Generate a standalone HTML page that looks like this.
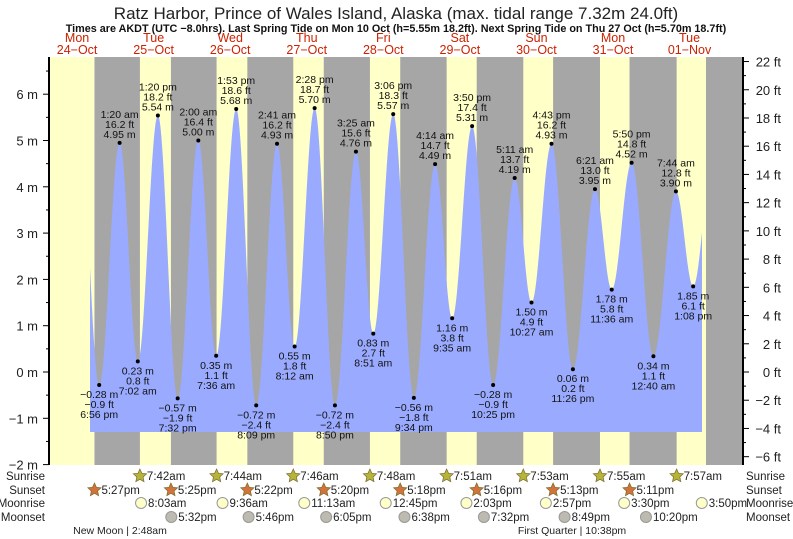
<!DOCTYPE html>
<html><head><meta charset="utf-8"><style>
body{margin:0;background:#fff;}
svg{display:block;font-family:"Liberation Sans",sans-serif;}
</style></head><body>
<svg id="chart" width="793" height="539" viewBox="0 0 793 539">
<text x="396" y="19" text-anchor="middle" font-size="17" fill="#222">Ratz Harbor, Prince of Wales Island, Alaska (max. tidal range 7.32m 24.0ft)</text>
<text x="396" y="32" text-anchor="middle" font-size="10.8" font-weight="bold" fill="#111">Times are AKDT (UTC −8.0hrs). Last Spring Tide on Mon 10 Oct (h=5.55m 18.2ft). Next Spring Tide on Thu 27 Oct (h=5.70m 18.7ft)</text>
<g id="bg"></g><g id="tide"></g><g id="axes"></g><g id="labels"></g><g id="bottom"></g>
</svg>
<script>
// ---- data ----
const dayNames = ["Mon","Tue","Wed","Thu","Fri","Sat","Sun","Mon","Tue"];
const dayDates = ["24\u2212Oct","25\u2212Oct","26\u2212Oct","27\u2212Oct","28\u2212Oct","29\u2212Oct","30\u2212Oct","31\u2212Oct","01\u2212Nov"];
// tide extremes: hours since 24-Oct 00:00, height m, label time
const tideHours = [12.75,18.93,25.33,31.03,37.33,43.53,50.0,55.6,61.88,68.15,74.68,80.2,86.47,92.83,99.42,104.85,111.1,117.57,124.23,129.58,135.83,142.42,149.18,154.45,160.72,167.43,174.35,179.6,185.83,192.67,199.73,205.13,211.13,216.5];
const tideHeights = [5.4,-0.28,4.95,0.23,5.54,-0.57,5.00,0.35,5.68,-0.72,4.93,0.55,5.70,-0.72,4.76,0.83,5.57,-0.56,4.49,1.16,5.31,-0.28,4.19,1.50,4.93,0.06,3.95,1.78,4.52,0.34,3.90,1.85,4.5,0.5];
const tideTimes = ["","6:56 pm","1:20 am","7:02 am","1:20 pm","7:32 pm","2:00 am","7:36 am","1:53 pm","8:09 pm","2:41 am","8:12 am","2:28 pm","8:50 pm","3:25 am","8:51 am","3:06 pm","9:34 pm","4:14 am","9:35 am","3:50 pm","10:25 pm","5:11 am","10:27 am","4:43 pm","11:26 pm","6:21 am","11:36 am","5:50 pm","12:40 am","7:44 am","1:08 pm","",""];
const tideFeet = ["","−0.9 ft","16.2 ft","0.8 ft","18.2 ft","−1.9 ft","16.4 ft","1.1 ft","18.6 ft","−2.4 ft","16.2 ft","1.8 ft","18.7 ft","−2.4 ft","15.6 ft","2.7 ft","18.3 ft","−1.8 ft","14.7 ft","3.8 ft","17.4 ft","−0.9 ft","13.7 ft","4.9 ft","16.2 ft","0.2 ft","13.0 ft","5.8 ft","14.8 ft","1.1 ft","12.8 ft","6.1 ft","",""];
const sunriseHours = [31.7,55.73,79.77,103.8,127.85,151.88,175.92,199.95];
const sunriseLabels = ["7:42am","7:44am","7:46am","7:48am","7:51am","7:53am","7:55am","7:57am"];
const sunsetHours = [17.45,41.42,65.37,89.33,113.3,137.27,161.22,185.18,209.15];
const sunsetLabels = ["5:27pm","5:25pm","5:22pm","5:20pm","5:18pm","5:16pm","5:13pm","5:11pm",""];
const moonriseHours = [32.05,57.6,83.22,108.75,134.05,158.95,183.5,207.83];
const moonriseLabels = ["8:03am","9:36am","11:13am","12:45pm","2:03pm","2:57pm","3:30pm","3:50pm"];
const moonsetHours = [41.53,65.77,90.08,114.63,139.53,164.82,190.33];
const moonsetLabels = ["5:32pm","5:46pm","6:05pm","6:38pm","7:32pm","8:49pm","10:20pm"];
const mTicks = [-2,-1,0,1,2,3,4,5,6];
const ftTicks = [-6,-4,-2,0,2,4,6,8,10,12,14,16,18,20,22];

// ---- scales ----
const NS="http://www.w3.org/2000/svg";
const L=49,R=743,T=57,B=465;
const X=h=>38.8+h*3.19;
const Y=m=>372-m*46.3;
const YF=f=>Y(f*0.3048);
function el(tag,attrs,parent,txt){const e=document.createElementNS(NS,tag);for(const k in attrs)e.setAttribute(k,attrs[k]);if(txt!==undefined)e.textContent=txt;parent.appendChild(e);return e;}
const bg=document.getElementById('bg'),tide=document.getElementById('tide'),axes=document.getElementById('axes'),labels=document.getElementById('labels'),bottom=document.getElementById('bottom');

// background
let r=el('rect',{x:L,y:T,width:R-L,height:B-T,fill:'#ffffc8'},bg);


for(let i=0;i<sunsetHours.length;i++){
  const x1=Math.max(L,X(sunsetHours[i]));
  const x2=i<sunriseHours.length?X(sunriseHours[i]):R;
  const n=el('rect',{x:x1,y:T,width:Math.min(R,x2)-x1,height:B-T,fill:'#a6a6a6'},bg);
  
  
}
// day labels
for(let i=0;i<dayNames.length;i++){
  const cx=X(i*24+12);
  const t1=el('text',{x:cx,y:42,'text-anchor':'middle','font-size':12.5,fill:'#cc2200'},labels,dayNames[i]);
  
  
  const t2=el('text',{x:cx,y:54,'text-anchor':'middle','font-size':12.5,fill:'#cc2200'},labels,dayDates[i]);
  
  
}
// tide curve
const xs0=90,xs1=702,base=432;
function heightAt(h){
  for(let i=0;i<tideHours.length-1;i++){
    if(h>=tideHours[i]&&h<=tideHours[i+1]){
      const f=(h-tideHours[i])/(tideHours[i+1]-tideHours[i]);
      return tideHeights[i]+(tideHeights[i+1]-tideHeights[i])*(1-Math.cos(Math.PI*f))/2;
    }
  }
  return tideHeights[tideHeights.length-1];
}
let pts=[[xs0,base]];
for(let x=xs0;x<=xs1;x+=0.5){const h=(x-38.8)/3.19;pts.push([x,Y(heightAt(h))]);}
pts.push([xs1,base]);
const poly=el('polygon',{points:pts.map(p=>p[0].toFixed(1)+','+p[1].toFixed(1)).join(' '),fill:'#9aabff'},tide);


// extreme markers
for(let i=0;i<tideHours.length;i++){
  if(!tideTimes[i])continue;
  const x=X(tideHours[i]),y=Y(tideHeights[i]);
  const isHigh=tideHeights[i]>tideHeights[i-1];
  const d=el('circle',{cx:x,cy:y,r:2,fill:'#000'},labels);
  
  
  const g=el('text',{'font-size':10.5,fill:'#111','text-anchor':'middle'},labels);
  
  
  const m=tideHeights[i].toFixed(2).replace('-','\u2212')+' m';
  const lines=isHigh?[tideTimes[i],tideFeet[i],m]:[m,tideFeet[i],tideTimes[i]];
  const y0=isHigh?y-25:y+13;
  lines.forEach((s,k)=>el('tspan',{x:x,y:y0+k*10},g,s));
}
// axes
let a=el('line',{x1:L,y1:T,x2:L,y2:B,stroke:'#000','stroke-width':2},axes);

a=el('line',{x1:R,y1:T,x2:R,y2:B,stroke:'#000','stroke-width':2},axes);

for(let m=-2;m<=6.5;m+=0.5){el('line',{x1:L-(m%1===0?6:3),y1:Y(m),x2:L,y2:Y(m),stroke:'#000'},axes);}
mTicks.forEach(m=>{const t=el('text',{x:38,y:Y(m)+5,'text-anchor':'end','font-size':13,fill:'#222'},axes,String(m).replace('-','\u2212')+' m');
  });
for(let f=-6;f<=22;f+=1){el('line',{x1:R,y1:YF(f),x2:R+(f%2===0?6:3),y2:YF(f),stroke:'#000'},axes);}
ftTicks.forEach(f=>{const t=el('text',{x:781,y:YF(f)+5,'text-anchor':'end','font-size':13,fill:'#222'},axes,String(f).replace('-','\u2212')+' ft');
  });
// bottom rows
const rows=[['Sunrise',480],['Sunset',494],['Moonrise',507],['Moonset',521]];
rows.forEach(([n,y])=>{
  let t=el('text',{x:45,y:y,'text-anchor':'end','font-size':11.5,fill:'#222'},bottom,n);
  
  t=el('text',{x:746,y:y,'font-size':11.5,fill:'#222'},bottom,n);
  
});
function star(cx,cy,fill){let p=[];for(let k=0;k<10;k++){const rr=k%2?3.3:7,a=-Math.PI/2+k*Math.PI/5;p.push((cx+rr*Math.cos(a)).toFixed(1)+','+(cy+rr*Math.sin(a)).toFixed(1));}
  return el('polygon',{points:p.join(' '),fill:fill,stroke:'#7a6a30','stroke-width':0.7},bottom);}
function rowItems(hours,labs,y,kind){
  hours.forEach((h,i)=>{
    if(!labs[i])return;const x=X(h);let ic;
    if(kind==='sunrise')ic=star(x,y-4,'#b5b53a');
    else if(kind==='sunset')ic=star(x,y-4,'#d2743a');
    else ic=el('circle',{cx:x,cy:y-4,r:5.5,fill:kind==='moonrise'?'#ffffc8':'#bdbab0',stroke:'#999'},bottom);
    
    
    const t=el('text',{x:x+7,y:y,'font-size':11.5,fill:'#222'},bottom,labs[i]);
    
    
  });
}
rowItems(sunriseHours,sunriseLabels,480,'sunrise');
rowItems(sunsetHours,sunsetLabels,494,'sunset');
rowItems(moonriseHours,moonriseLabels,507,'moonrise');
rowItems(moonsetHours,moonsetLabels,521,'moonset');
let t=el('text',{x:120,y:534,'text-anchor':'middle','font-size':10.5,fill:'#222'},bottom,'New Moon | 2:48am');

t=el('text',{x:572,y:534,'text-anchor':'middle','font-size':10.5,fill:'#222'},bottom,'First Quarter | 10:38pm');

</script>
</body></html>
